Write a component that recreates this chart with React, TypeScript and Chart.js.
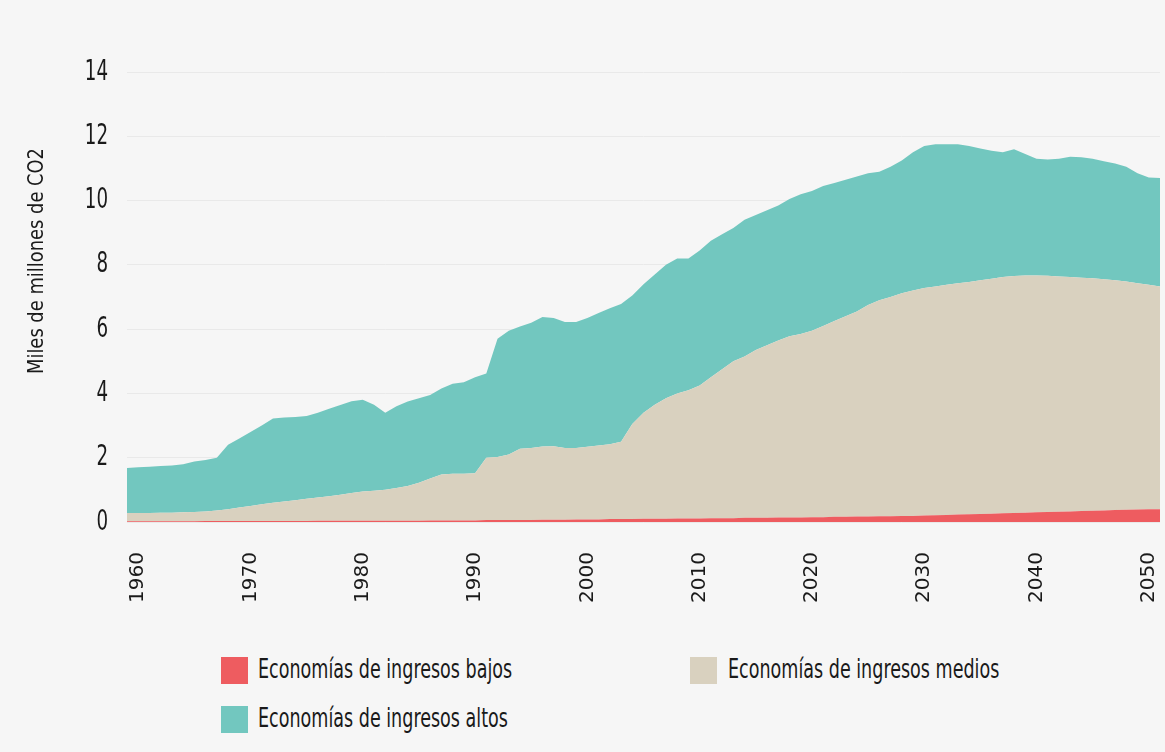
import React, { useEffect, useRef } from "react";
import { Chart, registerables } from "chart.js";

Chart.register(...registerables);

const years: number[] = [
  1959, 1960, 1961, 1962, 1963, 1964, 1965, 1966, 1967, 1968, 1969,
  1970, 1971, 1972, 1973, 1974, 1975, 1976, 1977, 1978, 1979,
  1980, 1981, 1982, 1983, 1984, 1985, 1986, 1987, 1988, 1989,
  1990, 1991, 1992, 1993, 1994, 1995, 1996, 1997, 1998, 1999,
  2000, 2001, 2002, 2003, 2004, 2005, 2006, 2007, 2008, 2009,
  2010, 2011, 2012, 2013, 2014, 2015, 2016, 2017, 2018, 2019,
  2020, 2021, 2022, 2023, 2024, 2025, 2026, 2027, 2028, 2029,
  2030, 2031, 2032, 2033, 2034, 2035, 2036, 2037, 2038, 2039,
  2040, 2041, 2042, 2043, 2044, 2045, 2046, 2047, 2048, 2049,
  2050, 2051,
];

const bajos: number[] = [
  0.02, 0.02, 0.02, 0.02, 0.02, 0.02, 0.02, 0.03, 0.03, 0.03, 0.03,
  0.03, 0.03, 0.03, 0.03, 0.03, 0.03, 0.04, 0.04, 0.04, 0.04,
  0.04, 0.04, 0.04, 0.04, 0.04, 0.04, 0.05, 0.05, 0.05, 0.05,
  0.05, 0.06, 0.06, 0.06, 0.06, 0.06, 0.07, 0.07, 0.07, 0.08,
  0.08, 0.08, 0.09, 0.09, 0.09, 0.10, 0.10, 0.10, 0.11, 0.11,
  0.11, 0.12, 0.12, 0.12, 0.13, 0.13, 0.13, 0.14, 0.14, 0.14,
  0.15, 0.15, 0.16, 0.16, 0.17, 0.17, 0.18, 0.18, 0.19, 0.19,
  0.20, 0.21, 0.22, 0.23, 0.24, 0.25, 0.26, 0.27, 0.28, 0.29,
  0.30, 0.31, 0.32, 0.33, 0.34, 0.35, 0.36, 0.37, 0.38, 0.39,
  0.40, 0.40,
];

const medios: number[] = [
  0.26, 0.26, 0.26, 0.27, 0.27, 0.28, 0.29, 0.30, 0.33, 0.37, 0.42,
  0.47, 0.52, 0.57, 0.61, 0.65, 0.69, 0.72, 0.76, 0.81, 0.86,
  0.91, 0.93, 0.96, 1.02, 1.08, 1.18, 1.30, 1.43, 1.45, 1.45,
  1.47, 1.94, 1.96, 2.04, 2.22, 2.24, 2.28, 2.29, 2.23, 2.22,
  2.26, 2.30, 2.33, 2.41, 2.96, 3.30, 3.55, 3.75, 3.89, 3.99,
  4.14, 4.38, 4.63, 4.88, 5.02, 5.22, 5.37, 5.51, 5.64, 5.71,
  5.80, 5.95, 6.09, 6.24, 6.38, 6.58, 6.72, 6.82, 6.93, 7.01,
  7.08, 7.12, 7.16, 7.20, 7.23, 7.27, 7.31, 7.35, 7.37, 7.38,
  7.37, 7.35, 7.32, 7.29, 7.26, 7.23, 7.19, 7.15, 7.10, 7.04,
  6.98, 6.93,
];

const altos: number[] = [
  1.40, 1.42, 1.44, 1.45, 1.47, 1.50, 1.57, 1.60, 1.64, 2.00, 2.15,
  2.30, 2.45, 2.62, 2.61, 2.59, 2.58, 2.64, 2.72, 2.79, 2.86,
  2.85, 2.68, 2.40, 2.54, 2.63, 2.63, 2.60, 2.67, 2.80, 2.85,
  2.98, 2.62, 3.68, 3.85, 3.80, 3.90, 4.03, 3.99, 3.92, 3.92,
  4.01, 4.12, 4.23, 4.28, 4.00, 4.00, 4.05, 4.15, 4.20, 4.10,
  4.20, 4.25, 4.20, 4.15, 4.25, 4.20, 4.20, 4.20, 4.27, 4.35,
  4.35, 4.35, 4.30, 4.25, 4.20, 4.10, 4.00, 4.05, 4.13, 4.30,
  4.42, 4.42, 4.37, 4.32, 4.23, 4.10, 3.98, 3.88, 3.95, 3.78,
  3.63, 3.62, 3.66, 3.74, 3.75, 3.72, 3.67, 3.63, 3.57, 3.42,
  3.34, 3.37,
];

const xTicks: number[] = [1960, 1970, 1980, 1990, 2000, 2010, 2020, 2030, 2040, 2050];
const yTicks: number[] = [0, 2, 4, 6, 8, 10, 12, 14];

const seriesNames: string[] = [
  "Economías de ingresos bajos",
  "Economías de ingresos medios",
  "Economías de ingresos altos",
];
const yTitle = "Miles de millones de CO2";

const RED = "#ee5c60";
const BEIGE = "#d9d1bf";
const TEAL = "#72c7bf";
const BG = "#f6f6f6";
const NARROW = "'DejaVu Sans Condensed', 'Liberation Sans Narrow', sans-serif";

export default function App() {
  const ref = useRef<HTMLCanvasElement | null>(null);

  useEffect(() => {
    if (!ref.current) return;
    const mk = (vals: number[]) => years.map((y, i) => ({ x: y, y: vals[i] }));
    const textPlugin = {
      id: "condensedText",
      afterDraw(chart: any) {
        const ctx = chart.ctx;
        const ys = chart.scales.y;
        // y axis title (condensed)
        ctx.save();
        ctx.translate(38, 261);
        ctx.rotate(-Math.PI / 2);
        ctx.font = `21px ${NARROW}`;
        const w = ctx.measureText(yTitle).width;
        ctx.scale(226 / w, 1);
        ctx.fillStyle = "#1a1a1a";
        ctx.textAlign = "center";
        ctx.textBaseline = "middle";
        ctx.fillText(yTitle, 0, 0);
        ctx.restore();
        // y tick labels (condensed)
        ctx.save();
        ctx.font = `29px ${NARROW}`;
        ctx.fillStyle = "#1a1a1a";
        ctx.textAlign = "right";
        ctx.textBaseline = "middle";
        ys.ticks.forEach((t: any) => {
          const py = ys.getPixelForValue(t.value);
          ctx.save();
          ctx.translate(108, py);
          ctx.scale(0.7, 1);
          ctx.fillText(String(t.value), 0, 0);
          ctx.restore();
        });
        ctx.restore();
      },
    };
    const chart = new Chart(ref.current, {
      type: "line",
      data: {
        datasets: [
          { label: seriesNames[0], data: mk(bajos), backgroundColor: RED, borderWidth: 0, fill: "origin" },
          { label: seriesNames[1], data: mk(medios), backgroundColor: BEIGE, borderWidth: 0, fill: "-1" },
          { label: seriesNames[2], data: mk(altos), backgroundColor: TEAL, borderWidth: 0, fill: "-1" },
        ],
      },
      options: {
        responsive: false,
        animation: false,
        layout: { padding: { left: 0, right: 5, top: 72, bottom: 0 } },
        elements: { point: { radius: 0 }, line: { tension: 0, borderWidth: 0 } },
        plugins: { legend: { display: false }, tooltip: { enabled: false } },
        scales: {
          x: {
            type: "linear",
            min: 1959,
            max: 2051,
            grid: { display: false },
            border: { display: false },
            afterBuildTicks: (s: any) => {
              s.ticks = xTicks.map((v) => ({ value: v }));
            },
            afterFit: (s: any) => {
              s.height = 108;
              s.paddingLeft = 0;
              s.paddingRight = 0;
            },
            ticks: {
              autoSkip: false,
              minRotation: 90,
              maxRotation: 90,
              padding: 22,
              color: "#1a1a1a",
              font: { family: "'DejaVu Sans', sans-serif", size: 20 },
              callback: (v: any) => String(v),
            },
          },
          y: {
            stacked: true,
            min: 0,
            max: 14,
            grid: { color: "#e9e9e9", lineWidth: 1, drawTicks: false },
            border: { display: false },
            afterBuildTicks: (s: any) => {
              s.ticks = yTicks.map((v) => ({ value: v }));
            },
            afterFit: (s: any) => {
              s.width = 127;
              s.paddingTop = 0;
              s.paddingBottom = 0;
            },
            ticks: {
              display: false,
            },
          },
        },
      },
      plugins: [textPlugin],
    });
    return () => chart.destroy();
  }, []);

  const sq = (left: number, top: number, color: string) => (
    <div style={{ position: "absolute", left, top, width: 27, height: 27, background: color }} />
  );
  const txt = (left: number, top: number, s: string) => (
    <div
      style={{
        position: "absolute",
        left,
        top,
        height: 27,
        lineHeight: "27px",
        fontFamily: NARROW,
        fontSize: 26,
        color: "#1a1a1a",
        whiteSpace: "nowrap",
        transform: "scaleX(0.75)",
        transformOrigin: "left center",
      }}
    >
      {s}
    </div>
  );

  return (
    <div style={{ position: "absolute", left: 0, top: 0, width: 1165, height: 752, background: BG, overflow: "hidden" }}>
      <canvas ref={ref} width={1165} height={630} style={{ position: "absolute", left: 0, top: 0 }} />
      {sq(221, 657, RED)}
      {txt(258, 656, seriesNames[0])}
      {sq(690, 657, BEIGE)}
      {txt(728, 656, seriesNames[1])}
      {sq(221, 706, TEAL)}
      {txt(258, 705, seriesNames[2])}
    </div>
  );
}
